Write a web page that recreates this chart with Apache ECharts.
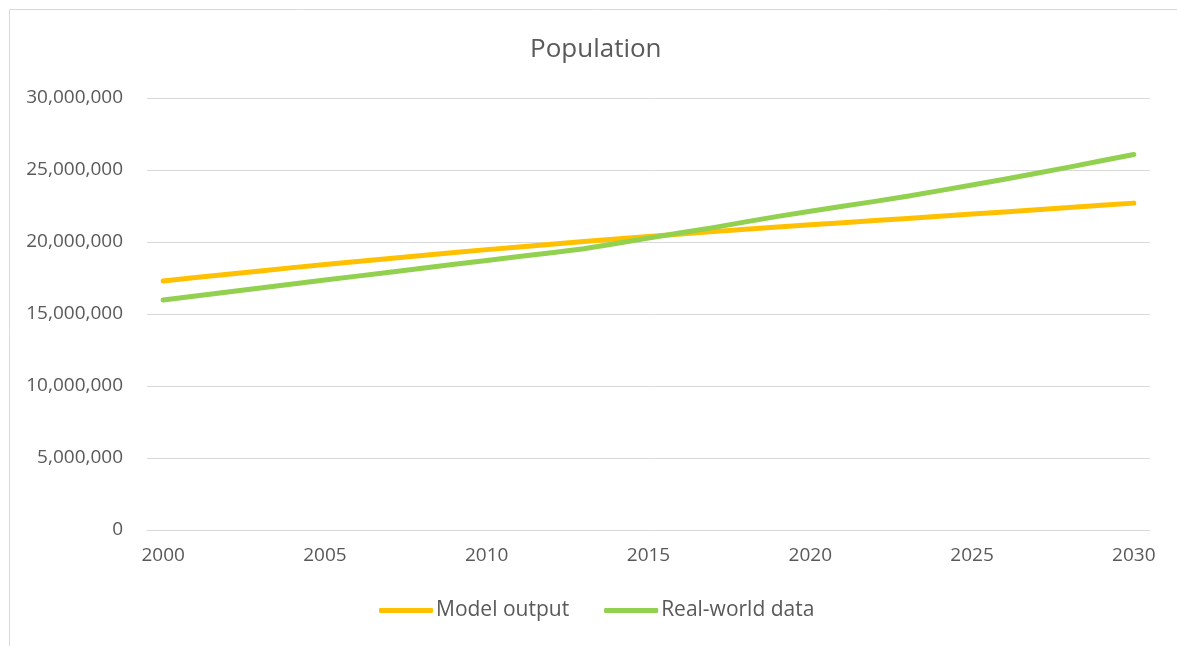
<!DOCTYPE html>
<html>
<head>
<meta charset="utf-8">
<script src="https://cdn.jsdelivr.net/npm/echarts@6/dist/echarts.min.js"></script>
<style>
html,body{margin:0;padding:0;background:#fff;}
#chart{width:1177px;height:646px;}
</style>
</head>
<body>
<div id="chart"></div>
<script>
const years = [];
for (let y = 2000; y <= 2030; y++) years.push(String(y));

const modelOutput = [
  17290000, 17530000, 17760000, 17990000, 18220000, 18440000, 18650000, 18860000, 19070000, 19270000,
  19470000, 19660000, 19850000, 20030000, 20210000, 20380000, 20550000, 20720000, 20880000, 21040000,
  21190000, 21340000, 21490000, 21640000, 21790000, 21940000, 22090000, 22240000, 22400000, 22550000,
  22700000
];
const realWorld = [
  15970000, 16250000, 16530000, 16810000, 17090000, 17360000, 17630000, 17900000, 18170000, 18450000,
  18720000, 18990000, 19260000, 19530000, 19900000, 20270000, 20640000, 21000000, 21400000, 21780000,
  22140000, 22480000, 22820000, 23180000, 23570000, 23960000, 24360000, 24770000, 25200000, 25640000,
  26080000
];
const seriesNames = ['Model output', 'Real-world data'];
const titleText = 'Population';

const font = '"Open Sans", "Noto Sans", sans-serif';
const textColor = '#595959';

const chart = echarts.init(document.getElementById('chart'));
chart.setOption({
  animation: false,
  backgroundColor: '#fff',
  graphic: [{
    type: 'rect',
    shape: { x: 9.5, y: 9.5, width: 1300, height: 800 },
    style: { fill: 'none', stroke: '#d9d9d9', lineWidth: 1 },
    silent: true
  }],
  title: {
    text: titleText,
    left: 525,
    top: 32,
    textStyle: { fontFamily: font, fontSize: 26, fontWeight: 'normal', color: textColor }
  },
  legend: {
    data: seriesNames,
    top: 595,
    left: 374,
    icon: 'roundRect',
    itemWidth: 54,
    itemHeight: 5,
    itemGap: 35,
    textStyle: { fontFamily: font, fontSize: 21, color: textColor, padding: [0, 0, 0, -2] }
  },
  grid: { left: 147, right: 27, top: 98, bottom: 116, containLabel: false },
  xAxis: {
    type: 'category',
    data: years,
    boundaryGap: true,
    axisLine: { show: true, lineStyle: { color: '#d9d9d9', width: 1 } },
    axisTick: { show: false },
    axisLabel: { interval: 4, margin: 16, fontFamily: font, fontSize: 19, color: textColor }
  },
  yAxis: {
    type: 'value',
    min: 0,
    max: 30000000,
    interval: 5000000,
    axisLine: { show: false },
    axisTick: { show: false },
    splitLine: { lineStyle: { color: '#d9d9d9', width: 1 } },
    axisLabel: {
      margin: 24,
      fontFamily: font,
      fontSize: 19,
      color: textColor,
      padding: [6, 0, 0, 0],
      formatter: v => v.toLocaleString('en-US')
    }
  },
  series: [
    {
      name: seriesNames[0],
      type: 'line',
      data: modelOutput,
      showSymbol: false,
      symbol: 'none',
      color: '#FFC000',
      lineStyle: { width: 5, color: '#FFC000', cap: 'round', join: 'round' }
    },
    {
      name: seriesNames[1],
      type: 'line',
      data: realWorld,
      showSymbol: false,
      symbol: 'none',
      color: '#92D050',
      lineStyle: { width: 5, color: '#92D050', cap: 'round', join: 'round' }
    }
  ]
});
</script>
</body>
</html>
